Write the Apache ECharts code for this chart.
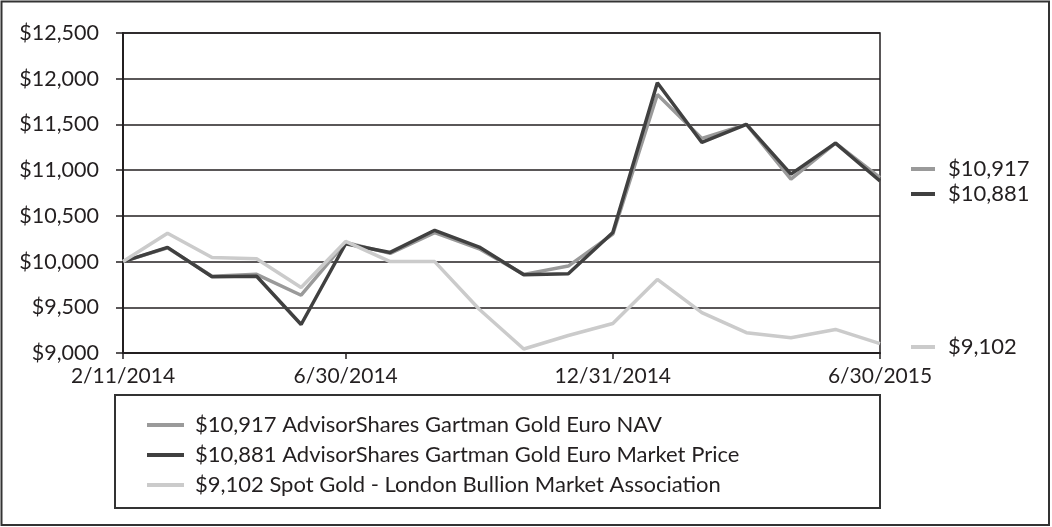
<!DOCTYPE html>
<html>
<head>
<meta charset="utf-8">
<script src="https://cdn.jsdelivr.net/npm/echarts@6/dist/echarts.min.js"></script>
<style>
html,body{margin:0;padding:0;background:#fff;}
#chart{width:1052px;height:527px;}
</style>
</head>
<body>
<div id="chart"></div>
<script>
var categories = ['2/11/2014','2/28/2014','3/31/2014','4/30/2014','5/31/2014','6/30/2014','7/31/2014','8/31/2014','9/30/2014','10/31/2014','11/30/2014','12/31/2014','1/31/2015','2/28/2015','3/31/2015','4/30/2015','5/31/2015','6/30/2015'];
var labelIndices = [0, 5, 11, 17];
var navName = 'AdvisorShares Gartman Gold Euro NAV';
var mktName = 'AdvisorShares Gartman Gold Euro Market Price';
var spotName = 'Spot Gold - London Bullion Market Association';
var navValues = [10000, 10150, 9840, 9860, 9632, 10210, 10090, 10317, 10140, 9860, 9951, 10300, 11828, 11347, 11500, 10902, 11295, 10917];
var mktValues = [10000, 10155, 9834, 9840, 9312, 10195, 10100, 10342, 10159, 9857, 9867, 10317, 11956, 11303, 11500, 10956, 11295, 10881];
var spotValues = [10000, 10310, 10045, 10030, 9717, 10220, 10000, 10000, 9478, 9044, 9191, 9323, 9805, 9442, 9222, 9167, 9258, 9102];
var yMin = 9000, yMax = 12500, yStep = 500;

var FONT = 'Lato';
var INK = '#231f20';
function money(v){ return '$' + Math.round(v).toLocaleString('en-US'); }
var lastVal = {};
lastVal[navName] = navValues[navValues.length-1];
lastVal[mktName] = mktValues[mktValues.length-1];
lastVal[spotName] = spotValues[spotValues.length-1];

var chart = echarts.init(document.getElementById('chart'), null, {renderer:'canvas'});
var sideLegendBase = {
  orient: 'vertical', left: 906, icon: 'rect', itemWidth: 24, itemHeight: 4, itemGap: 3,
  selectedMode: false,
  textStyle: {fontFamily: FONT, fontSize: 22, color: INK, lineHeight: 22, padding: [0,0,0,8]},
  formatter: function(n){ return money(lastVal[n]); }
};
var option = {
  animation: false,
  backgroundColor: '#fff',
  grid: {left: 123, right: 172, top: 33, bottom: 174, show: true, borderColor: INK, borderWidth: 1.5, containLabel: false},
  xAxis: {
    type: 'category', data: categories, boundaryGap: false,
    axisLine: {show: true, lineStyle: {color: INK, width: 2}},
    axisTick: {show: true, length: 6, lineStyle: {color: INK, width: 1.5}, interval: function(i){ return labelIndices.indexOf(i) >= 0; }},
    axisLabel: {interval: function(i){ return labelIndices.indexOf(i) >= 0; }, margin: 13, fontFamily: FONT, fontSize: 21, color: INK},
    splitLine: {show: false}
  },
  yAxis: {
    type: 'value', min: yMin, max: yMax, interval: yStep,
    axisLine: {show: true, lineStyle: {color: INK, width: 2}},
    axisTick: {show: true, inside: false, length: 7, lineStyle: {color: INK, width: 1.5}},
    axisLabel: {margin: 24, fontFamily: FONT, fontSize: 21.5, color: INK, formatter: function(v){ return money(v); }},
    splitLine: {show: true, lineStyle: {color: INK, width: 1.5}}
  },
  legend: [
    {
      orient: 'vertical', left: 142, top: 409, icon: 'rect', itemWidth: 37, itemHeight: 4, itemGap: 8,
      selectedMode: false,
      data: [navName, mktName, spotName],
      textStyle: {fontFamily: FONT, fontSize: 22, color: INK, lineHeight: 22, padding: [0,0,0,6]},
      formatter: function(n){ return money(lastVal[n]) + ' ' + n; }
    },
    Object.assign({}, sideLegendBase, {top: 153, data: [navName, mktName]}),
    Object.assign({}, sideLegendBase, {top: 331, data: [spotName]})
  ],
  graphic: [
    {type: 'rect', shape: {x: 115, y: 395, width: 765, height: 113}, style: {fill: 'none', stroke: '#333', lineWidth: 2}, silent: true},
    {type: 'rect', shape: {x: 1.5, y: 1.5, width: 1047.5, height: 523.5}, style: {fill: 'none', stroke: '#333', lineWidth: 2}, silent: true}
  ],
  series: [
    {name: navName, type: 'line', data: navValues, symbol: 'none', color: '#9a9a9a', lineStyle: {width: 3.5, color: '#9a9a9a'}, z: 2},
    {name: mktName, type: 'line', data: mktValues, symbol: 'none', color: '#404040', lineStyle: {width: 3.5, color: '#404040'}, z: 3},
    {name: spotName, type: 'line', data: spotValues, symbol: 'none', color: '#cbcbcb', lineStyle: {width: 3.5, color: '#cbcbcb'}, z: 4}
  ]
};
chart.setOption(option);
</script>
</body>
</html>
